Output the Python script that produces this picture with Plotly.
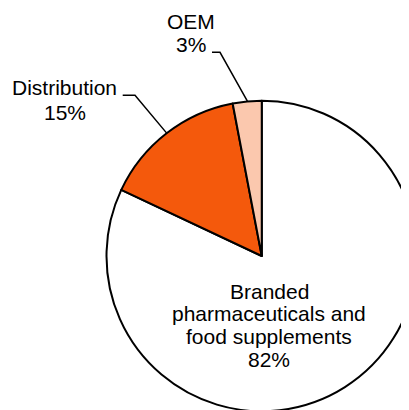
import math
import plotly.graph_objects as go

# ---- data ----
segments = ["Branded pharmaceuticals and food supplements", "Distribution", "OEM"]
label_lines = [["Branded", "pharmaceuticals and", "food supplements"], ["Distribution"], ["OEM"]]
shares = [82, 15, 3]
seg_colors = ["#FFFFFF", "#F4590C", "#FBC8AE"]

# ---- layout constants (page pixels) ----
W, H = 409, 410
OFF = 8  # browser body margin: figure origin sits at page (8, 8)
cx, cy, r = 262, 256, 155.5
FS = 21
FONT = dict(family="Liberation Sans, Arial, sans-serif", size=FS, color="#000000")

def px(x):
    return (x - OFF) / W

def py(y):
    return 1 - (y - OFF) / H

fig = go.Figure()
fig.add_trace(go.Pie(
    labels=segments,
    values=shares,
    sort=False,
    direction="clockwise",
    rotation=0,
    marker=dict(colors=seg_colors, line=dict(color="#000000", width=2)),
    textinfo="none",
    hoverinfo="label+percent",
    showlegend=False,
    domain=dict(x=[max(0, px(cx - r)), min(1, px(cx + r))],
                y=[max(0, py(cy + r)), min(1, py(cy - r))]),
))

# mid angles of each slice (clockwise from 12 o'clock)
total = sum(shares)
mids = []
acc = 0
for v in shares:
    mids.append((acc + v / 2) / total * 2 * math.pi)
    acc += v

def edge(i):
    a = mids[i]
    return cx + r * math.sin(a), cy - r * math.cos(a)

# label placement: text center x, first baseline, line spacing, elbow x/y, line start x
placements = {
    0: dict(tx=269, base=298.3, step=22.8, ex=None),
    1: dict(tx=64.8, base=95.0, step=25.0, ex=135, ey=95.3, sx=122.7),
    2: dict(tx=190.5, base=28.3, step=23.4, ex=220, ey=52.3, sx=212),
}

ASC_SHIFT = 0.3465 * FS  # baseline -> vertical center of text box

for i in range(len(segments)):
    p = placements[i]
    lines = label_lines[i] + [f"{shares[i]}%"]
    for k, txt in enumerate(lines):
        base = p["base"] + k * p["step"]
        fig.add_annotation(
            x=px(p["tx"]), y=py(base - ASC_SHIFT), xref="paper", yref="paper",
            text=txt, showarrow=False, font=FONT,
            xanchor="center", yanchor="middle", borderpad=0,
        )
    if p["ex"] is not None:
        qx, qy = edge(i)
        path = (f"M {px(p['sx'])},{py(p['ey'])} L {px(p['ex'])},{py(p['ey'])} "
                f"L {px(qx)},{py(qy)}")
        fig.add_shape(type="path", path=path, xref="paper", yref="paper",
                      line=dict(color="#000000", width=1.5))

fig.update_layout(
    width=W, height=H,
    margin=dict(l=0, r=0, t=0, b=0),
    paper_bgcolor="#FFFFFF",
    plot_bgcolor="#FFFFFF",
)

fig.write_html("out.html")
